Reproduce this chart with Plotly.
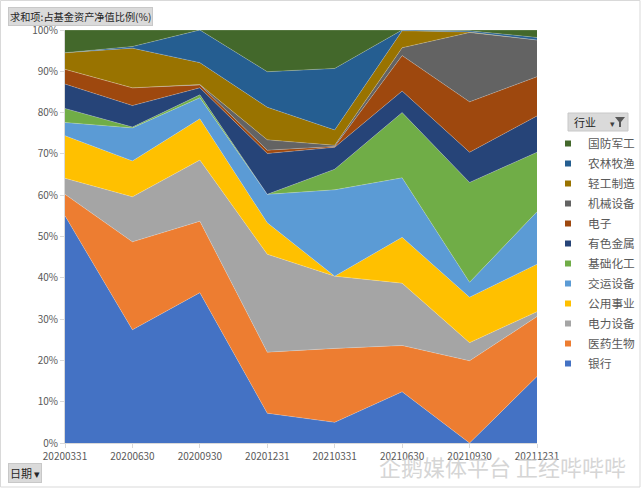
import plotly.graph_objects as go

dates = ['20200331', '20200630', '20200930', '20201231', '20210331', '20210630', '20210930', '20211231']

# series listed from bottom of the stack to top
bank       = [55.0, 27.4, 36.4, 7.2, 5.0, 12.4, 0.0, 16.1]   # 银行
pharma     = [5.2, 21.3, 17.3, 14.8, 17.9, 11.2, 19.9, 14.5]  # 医药生物
power_eq   = [3.9, 10.9, 14.8, 23.7, 17.5, 15.1, 4.4, 1.2]    # 电力设备
utilities  = [10.3, 8.7, 10.0, 7.6, 0.0, 11.1, 11.0, 11.5]    # 公用事业
transport  = [3.2, 8.0, 5.1, 6.9, 20.9, 14.4, 3.6, 12.7]      # 交运设备
chemicals  = [3.4, 0.2, 0.7, 0.0, 5.0, 15.8, 24.2, 14.4]      # 基础化工
metals     = [5.9, 5.2, 1.7, 9.9, 5.3, 5.2, 7.3, 8.8]         # 有色金属
electronic = [3.6, 4.3, 0.7, 0.8, 0.2, 8.6, 12.2, 9.5]        # 电子
machinery  = [0.0, 0.0, 0.1, 2.5, 0.3, 1.9, 16.8, 8.9]        # 机械设备
light_mfg  = [4.0, 9.6, 5.3, 7.9, 3.7, 4.1, 0.1, 0.0]         # 轻工制造
agri       = [0.0, 0.4, 7.9, 8.6, 14.9, 0.2, 0.3, 0.6]        # 农林牧渔
defense    = [5.5, 4.0, 0.0, 10.1, 9.3, 0.0, 0.2, 1.8]        # 国防军工

series = [
    ('银行', bank, '#4472C4'),
    ('医药生物', pharma, '#ED7D31'),
    ('电力设备', power_eq, '#A5A5A5'),
    ('公用事业', utilities, '#FFC000'),
    ('交运设备', transport, '#5B9BD5'),
    ('基础化工', chemicals, '#70AD47'),
    ('有色金属', metals, '#264478'),
    ('电子', electronic, '#9E480E'),
    ('机械设备', machinery, '#636363'),
    ('轻工制造', light_mfg, '#997300'),
    ('农林牧渔', agri, '#255E91'),
    ('国防军工', defense, '#43682B'),
]

FONT = 'Noto Sans CJK SC'
W, H = 641, 488
L, R, T, B = 65, 537, 30, 443
pw, ph = R - L, B - T

def px(x):
    return (x - L) / pw

def py(y):
    return (B - y) / ph

fig = go.Figure()
for name, vals, col in series:
    fig.add_trace(go.Scatter(
        x=dates, y=vals, name=name, mode='lines',
        stackgroup='one', groupnorm='percent',
        fillcolor=col,
        line=dict(width=0.6, color='rgba(255,255,255,0.35)'),
        showlegend=False, hoverinfo='x+y+name'))

# legend entries (top to bottom)
for name, vals, col in reversed(series):
    fig.add_trace(go.Scatter(
        x=[None], y=[None], name=name, mode='markers', legendgroup=name,
        marker=dict(symbol='square', size=6, color=col),
        showlegend=True))

fig.update_layout(
    width=W, height=H,
    margin=dict(l=L, r=W - R, t=T, b=H - B, autoexpand=False),
    paper_bgcolor='white', plot_bgcolor='white',
    font=dict(family=FONT, size=11, color='#595959'),
    showlegend=True,
    legend=dict(x=px(548), y=py(129), xanchor='left', yanchor='top',
                traceorder='grouped', font=dict(size=11.7, color='#595959'),
                tracegroupgap=1, borderwidth=0,
                bgcolor='rgba(0,0,0,0)'),
    xaxis=dict(type='category', range=[0, len(dates) - 1],
               showgrid=False, showline=True, linecolor='#d9d9d9',
               ticks='outside', ticklen=4, tickcolor='#d9d9d9',
               tickfont=dict(size=10, color='#595959'), zeroline=False),
    yaxis=dict(range=[0, 100], dtick=10, ticksuffix='%',
               showgrid=False, showline=True, linecolor='#d9d9d9',
               ticks='outside', ticklen=4, tickcolor='#d9d9d9',
               tickfont=dict(size=10, color='#595959'), zeroline=False),
)

# field buttons (pivot chart style)
fig.add_annotation(xref='paper', yref='paper', x=px(8), y=py(7),
                   xanchor='left', yanchor='top', showarrow=False,
                   text='求和项:占基金资产净值比例(%)',
                   font=dict(size=10.2, color='#262626', family=FONT),
                   bgcolor='#dadada', bordercolor='#c8c8c8', borderwidth=1, borderpad=1)
fig.add_annotation(xref='paper', yref='paper', x=px(8), y=py(463),
                   xanchor='left', yanchor='top', showarrow=False,
                   text='日期 ▾',
                   font=dict(size=11, color='#262626', family=FONT),
                   bgcolor='#dadada', bordercolor='#c8c8c8', borderwidth=1, borderpad=1)

# legend header button: box as a shape, text & icons above it
fig.add_shape(type='rect', xref='paper', yref='paper',
              x0=px(568), x1=px(628), y0=py(131), y1=py(113),
              fillcolor='#dadada', line=dict(color='#c8c8c8', width=1), layer='above')
fig.add_annotation(xref='paper', yref='paper', x=px(572), y=py(122),
                   xanchor='left', yanchor='middle', showarrow=False,
                   text='行业', font=dict(size=11, color='#262626', family=FONT))
fig.add_annotation(xref='paper', yref='paper', x=px(612), y=py(123),
                   xanchor='center', yanchor='middle', showarrow=False,
                   text='▾', font=dict(size=9, color='#404040'))
fx, fy = 620, 117
fig.add_shape(type='path', xref='paper', yref='paper',
              path=f'M {px(fx-5)},{py(fy)} L {px(fx+5)},{py(fy)} L {px(fx+1)},{py(fy+5)} '
                   f'L {px(fx+1)},{py(fy+10)} L {px(fx-1)},{py(fy+10)} L {px(fx-1)},{py(fy+5)} Z',
              fillcolor='#595959', line=dict(width=0), layer='above')

# watermark
fig.add_annotation(xref='paper', yref='paper', x=px(628), y=py(466),
                   xanchor='right', yanchor='middle', showarrow=False,
                   text='企鹅媒体平台 正经哔哔哔',
                   font=dict(size=22, color='rgba(200,200,200,0.75)', family=FONT))

# chart border
fig.add_shape(type='rect', xref='paper', yref='paper',
              x0=px(0.5), x1=px(640), y0=py(487), y1=py(0.5),
              line=dict(color='#d9d9d9', width=1), fillcolor='rgba(0,0,0,0)', layer='below')

fig.write_html('out.html')
